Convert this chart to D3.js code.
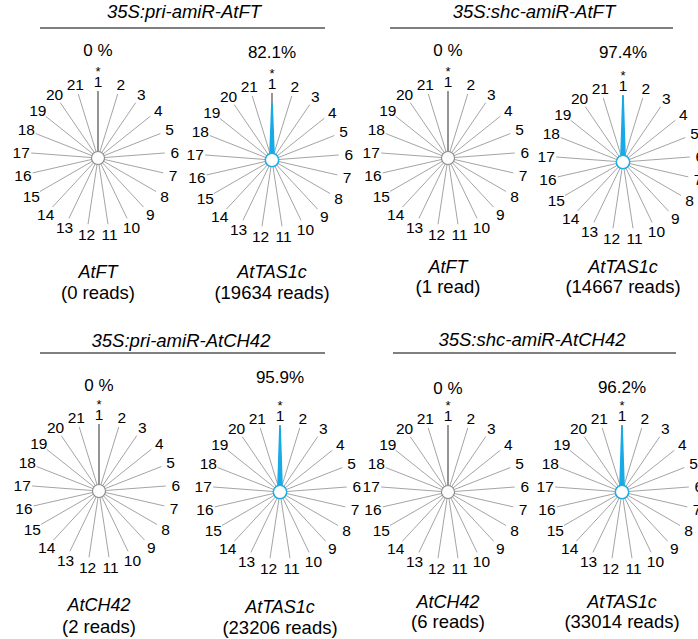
<!DOCTYPE html>
<html>
<head>
<meta charset="utf-8">
<script src="https://cdn.jsdelivr.net/npm/d3@7"></script>
<style>
  body { margin: 0; background: #fff; }
  svg { display: block; font-family: "Liberation Sans", Arial, sans-serif; }
</style>
</head>
<body>
<svg id="chart" width="698" height="639"></svg>
<script>
// positions 1..21 of the small RNA
const positions = [1, 2, 3, 4, 5, 6, 7, 8, 9, 10, 11, 12, 13, 14, 15, 16, 17, 18, 19, 20, 21];

const groupTitles = ["35S:pri-amiR-AtFT", "35S:shc-amiR-AtFT", "35S:pri-amiR-AtCH42", "35S:shc-amiR-AtCH42"];

const geneNames = ["AtFT", "AtTAS1c", "AtFT", "AtTAS1c", "AtCH42", "AtTAS1c", "AtCH42", "AtTAS1c"];
const readLabels = ["(0 reads)", "(19634 reads)", "(1 read)", "(14667 reads)", "(2 reads)", "(23206 reads)", "(6 reads)", "(33014 reads)"];
const percentLabels = ["0 %", "82.1%", "0 %", "97.4%", "0 %", "95.9%", "0 %", "96.2%"];

// % of reads per position (only position 1 is visible)
const priFT_FT      = [0,    0,0,0,0,0,0,0,0,0,0,0,0,0,0,0,0,0,0,0,0];
const priFT_TAS1c   = [82.1, 0,0,0,0,0,0,0,0,0,0,0,0,0,0,0,0,0,0,0,0];
const shcFT_FT      = [0,    0,0,0,0,0,0,0,0,0,0,0,0,0,0,0,0,0,0,0,0];
const shcFT_TAS1c   = [97.4, 0,0,0,0,0,0,0,0,0,0,0,0,0,0,0,0,0,0,0,0];
const priCH42_CH42  = [0,    0,0,0,0,0,0,0,0,0,0,0,0,0,0,0,0,0,0,0,0];
const priCH42_TAS1c = [95.9, 0,0,0,0,0,0,0,0,0,0,0,0,0,0,0,0,0,0,0,0];
const shcCH42_CH42  = [0,    0,0,0,0,0,0,0,0,0,0,0,0,0,0,0,0,0,0,0,0];
const shcCH42_TAS1c = [96.2, 0,0,0,0,0,0,0,0,0,0,0,0,0,0,0,0,0,0,0,0];

const series = [priFT_FT, priFT_TAS1c, shcFT_FT, shcFT_TAS1c, priCH42_CH42, priCH42_TAS1c, shcCH42_CH42, shcCH42_TAS1c];

// layout
const groupLayout = [
  {cx: 184, ty: 18, ly: 28, x0: 40, x1: 325},
  {cx: 534, ty: 18, ly: 28, x0: 390, x1: 673},
  {cx: 181, ty: 347, ly: 353, x0: 40, x1: 325},
  {cx: 532, ty: 346, ly: 353, x0: 393, x1: 676}
];
const chartLayout = [
  {cx: 98,  cy: 158, pctY: 56,  geneY: 278, readY: 299},
  {cx: 272, cy: 160, pctY: 58,  geneY: 278, readY: 299},
  {cx: 448, cy: 158, pctY: 56,  geneY: 273, readY: 293},
  {cx: 623, cy: 162, pctY: 58,  geneY: 273, readY: 293},
  {cx: 99,  cy: 491, pctY: 391, geneY: 611, readY: 633},
  {cx: 280, cy: 492, pctY: 383, geneY: 613, readY: 634},
  {cx: 448, cy: 492, pctY: 394, geneY: 608, readY: 628},
  {cx: 622, cy: 492, pctY: 393, geneY: 608, readY: 628}
];

const R = 67, r0 = 6.5, labelR = 77;
const blue = "#17aae6";
const spokeColor = "#9a9a9a";

const svg = d3.select("#chart");

const angle = d3.scaleBand().domain(positions).range([0, 2 * Math.PI]).paddingInner(0).paddingOuter(0);
const radius = d3.scaleLinear().domain([0, 100]).range([r0, R]);

// group titles with rule
groupTitles.forEach((t, i) => {
  const g = groupLayout[i];
  svg.append("text")
    .attr("x", g.cx).attr("y", g.ty)
    .attr("text-anchor", "middle")
    .style("font-size", "18.5px").style("font-style", "italic")
    .text(t);
  svg.append("line")
    .attr("x1", g.x0).attr("x2", g.x1)
    .attr("y1", g.ly).attr("y2", g.ly)
    .attr("stroke", "#000").attr("stroke-width", 1.2);
});

const radar = d3.lineRadial()
  .angle((d, i) => angle(positions[i]))
  .radius(d => radius(d))
  .curve(d3.curveLinearClosed);

series.forEach((vals, k) => {
  const L = chartLayout[k];
  const g = svg.append("g").attr("transform", `translate(${L.cx},${L.cy})`);
  const hasData = d3.max(vals) > 0;

  // spokes
  g.append("g").selectAll("line")
    .data(positions)
    .join("line")
    .attr("x1", 0).attr("y1", 0)
    .attr("x2", d => R * Math.sin(angle(d)))
    .attr("y2", d => -R * Math.cos(angle(d)))
    .attr("stroke", d => d === 1 ? "#7a7a7a" : spokeColor)
    .attr("stroke-width", d => d === 1 ? 1.6 : 0.9);

  // spoke labels
  g.append("g").selectAll("text")
    .data(positions)
    .join("text")
    .attr("x", d => labelR * Math.sin(angle(d)))
    .attr("y", d => -labelR * Math.cos(angle(d)))
    .attr("dy", "0.36em")
    .attr("text-anchor", "middle")
    .style("font-size", "15.5px")
    .text(d => d);

  // read distribution (only when there are reads to show)
  g.selectAll("path.dist")
    .data(hasData ? [vals] : [])
    .join("path")
    .attr("class", "dist")
    .attr("d", radar)
    .attr("fill", blue)
    .attr("stroke", blue)
    .attr("stroke-width", 1.8)
    .attr("stroke-linejoin", "round");

  g.append("circle")
    .attr("r", r0)
    .attr("fill", "#fff")
    .attr("stroke", hasData ? blue : "#8a8a8a")
    .attr("stroke-width", 1.1);

  svg.append("text")
    .attr("x", L.cx).attr("y", L.cy - 82.5)
    .attr("text-anchor", "middle")
    .style("font-size", "13px")
    .text("*");

  svg.append("text")
    .attr("x", L.cx).attr("y", L.pctY)
    .attr("text-anchor", "middle")
    .style("font-size", "17px")
    .text(percentLabels[k]);

  svg.append("text")
    .attr("x", L.cx).attr("y", L.geneY)
    .attr("text-anchor", "middle")
    .style("font-size", "18px").style("font-style", "italic")
    .text(geneNames[k]);

  svg.append("text")
    .attr("x", L.cx).attr("y", L.readY)
    .attr("text-anchor", "middle")
    .style("font-size", "18.5px")
    .text(readLabels[k]);
});
</script>
</body>
</html>
